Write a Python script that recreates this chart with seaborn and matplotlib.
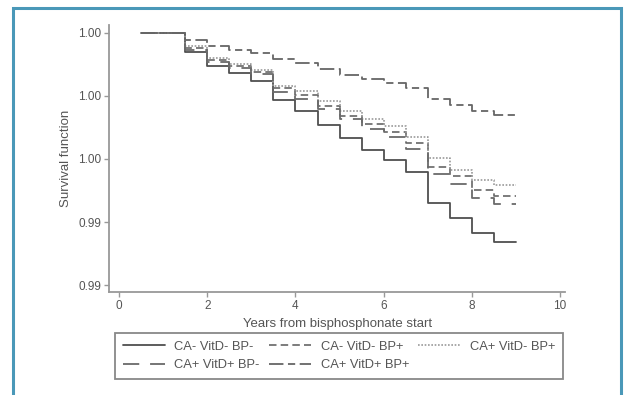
import matplotlib
matplotlib.use("Agg")
import matplotlib.pyplot as plt
import seaborn as sns
import pandas as pd
from matplotlib.patches import Rectangle
from matplotlib.lines import Line2D

# ---- data ----
years = [0.5, 1.5, 2.0, 2.5, 3.0, 3.5, 4.0, 4.5, 5.0, 5.5, 6.0, 6.5, 7.0, 7.5, 8.0, 8.5, 9.0]

ca_no_vd_no_bp_no = [1.00000, 0.99940, 0.99895, 0.99873, 0.99848, 0.99787, 0.99752, 0.99708,
                     0.99667, 0.99629, 0.99597, 0.99559, 0.99460, 0.99413, 0.99365, 0.99337, 0.99337]
ca_no_vd_no_bp_yes = [1.00000, 0.99952, 0.99914, 0.99895, 0.99876, 0.99825, 0.99803, 0.99768,
                      0.99737, 0.99711, 0.99686, 0.99651, 0.99575, 0.99546, 0.99502, 0.99483, 0.99483]
ca_yes_vd_no_bp_yes = [1.00000, 0.99959, 0.99921, 0.99902, 0.99883, 0.99832, 0.99816, 0.99784,
                       0.99752, 0.99727, 0.99705, 0.99670, 0.99603, 0.99565, 0.99533, 0.99517, 0.99517]
ca_yes_vd_yes_bp_no = [1.00000, 0.99946, 0.99908, 0.99889, 0.99870, 0.99813, 0.99790, 0.99759,
                       0.99727, 0.99695, 0.99670, 0.99632, 0.99552, 0.99521, 0.99476, 0.99457, 0.99457]
ca_yes_vd_yes_bp_yes = [1.00000, 0.99978, 0.99959, 0.99946, 0.99937, 0.99917, 0.99905, 0.99886,
                        0.99867, 0.99854, 0.99841, 0.99825, 0.99790, 0.99771, 0.99752, 0.99740, 0.99740]

group_labels = ["CA- VitD- BP-", "CA- VitD- BP+", "CA+ VitD- BP+", "CA+ VitD+ BP-", "CA+ VitD+ BP+"]
series = [ca_no_vd_no_bp_no, ca_no_vd_no_bp_yes, ca_yes_vd_no_bp_yes,
          ca_yes_vd_yes_bp_no, ca_yes_vd_yes_bp_yes]

xticks = [0, 2, 4, 6, 8, 10]
yticks = [1.000, 0.998, 0.996, 0.994, 0.992]
ytick_labels = ["1.00", "1.00", "1.00", "0.99", "0.99"]

# ---- styles ----
styles = [
    dict(color="#4f4f4f", linestyle="-", lw=1.3),
    dict(color="#666666", linestyle=(0, (4.5, 2.5)), lw=1.2),
    dict(color="#9a9a9a", linestyle=(0, (1.0, 1.0)), lw=1.2),
    dict(color="#6a6a6a", linestyle=(0, (9, 6)), lw=1.3),
    dict(color="#666666", linestyle=(0, (8, 2.5, 4, 2.5)), lw=1.3),
]

sns.set_theme(style="ticks")
plt.rcParams["font.family"] = ["Liberation Sans", "DejaVu Sans"]

W, H = 624, 395
fig = plt.figure(figsize=(W / 100, H / 100), dpi=100)
fig.patch.set_facecolor("white")
ax = fig.add_axes([109.5 / W, 1 - 292 / H, (565 - 109.5) / W, (292 - 25) / H])

df = pd.DataFrame({
    "years": years * len(series),
    "surv": [v for s in series for v in s],
    "group": [g for g, s in zip(group_labels, series) for _ in s],
})

for g, st in zip(group_labels, styles):
    sub = df[df["group"] == g]
    sns.lineplot(data=sub, x="years", y="surv", ax=ax, drawstyle="steps-post",
                 errorbar=None, legend=False, **st)

ax.set_xlim(-0.215, 10.11)
ax.set_ylim(0.99178, 1.00025)
ax.set_xticks(xticks)
ax.set_xticklabels([str(t) for t in xticks])
ax.set_yticks(yticks)
ax.set_yticklabels(ytick_labels)

for side in ["top", "right"]:
    ax.spines[side].set_visible(False)
for side in ["left", "bottom"]:
    ax.spines[side].set_color("#999999")
    ax.spines[side].set_linewidth(1.3)
ax.tick_params(axis="both", colors="#999999", length=3.5, width=1.0,
               labelsize=8.5, labelcolor="#555555", pad=2.5)
ax.set_xlabel("Years from bisphosphonate start", fontsize=9.5, color="#555555", labelpad=4)
ax.set_ylabel("Survival function", fontsize=9.5, color="#555555", labelpad=4)
ax.set_facecolor("white")
ax.grid(False)

# legend: row1 = first three, row2 = last two
order = [0, 3, 1, 4, 2]
handles = [Line2D([], [], **styles[i]) for i in order]
labs = [group_labels[i] for i in order]
leg = fig.legend(handles, labs, loc="upper left", bbox_to_anchor=(115 / W, 1 - 333 / H),
                 ncol=3, fontsize=9.3, frameon=True, fancybox=False, framealpha=1,
                 edgecolor="#888888", handlelength=3.3, handletextpad=0.7,
                 columnspacing=0.7, labelspacing=0.5, borderpad=0.6, borderaxespad=0)
leg.get_frame().set_linewidth(1.3)
for t in leg.get_texts():
    t.set_color("#555555")

# teal frame around the figure
fig.patches.append(Rectangle((13 / W, -0.05), (621 - 13) / W, 1.05 - 8 / H,
                             transform=fig.transFigure, fill=False,
                             edgecolor="#4a98b8", linewidth=2.2))

fig.savefig("out.png", dpi=100)
